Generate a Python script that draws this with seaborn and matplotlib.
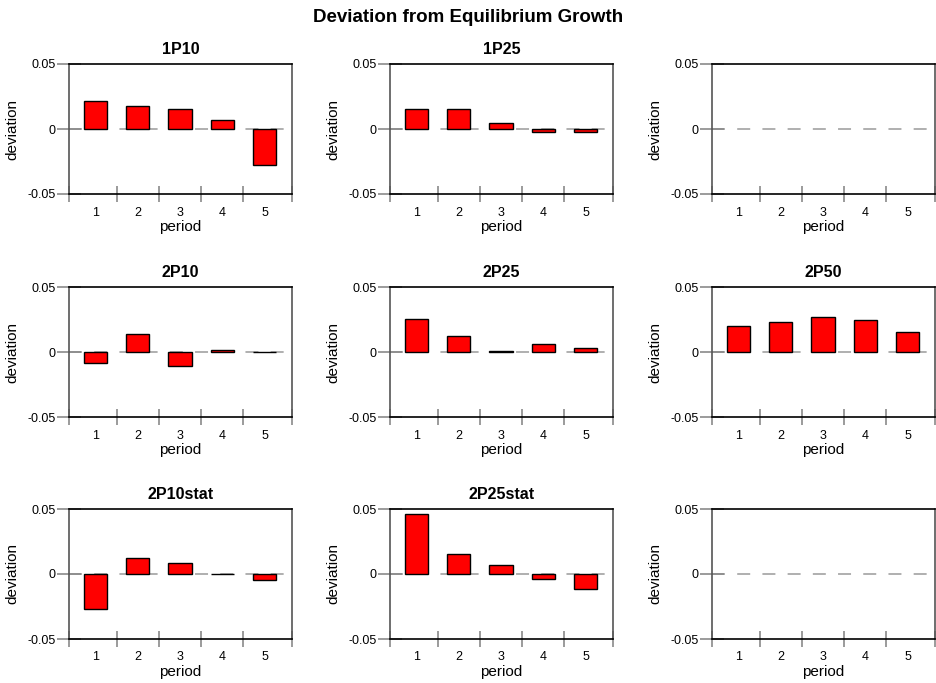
import matplotlib

matplotlib.use("Agg")
import matplotlib.pyplot as plt  # noqa: E402
import pandas as pd
import seaborn as sns

# panel titles (row by row) and the deviation per period; None = empty panel
periods = [1, 2, 3, 4, 5]
titles = ["1P10", "1P25", "", "2P10", "2P25", "2P50", "2P10stat", "2P25stat", ""]
dev_1p10 = [0.0212, 0.0179, 0.0156, 0.0072, -0.0280]
dev_1p25 = [0.0156, 0.0154, 0.0043, -0.0023, -0.0020]
dev_2p10 = [-0.0082, 0.0138, -0.0110, 0.0018, -0.0003]
dev_2p25 = [0.0251, 0.0120, 0.0006, 0.0062, 0.0033]
dev_2p50 = [0.0197, 0.0228, 0.0269, 0.0244, 0.0154]
dev_2p10stat = [-0.0272, 0.0120, 0.0085, 0.0003, -0.0044]
dev_2p25stat = [0.0462, 0.0151, 0.0067, -0.0036, -0.0113]
series = [dev_1p10, dev_1p25, None, dev_2p10, dev_2p25, dev_2p50,
          dev_2p10stat, dev_2p25stat, None]
y_ticks = [-0.05, 0, 0.05]
y_ticklabels = ["-0.05", "0", "0.05"]

sns.set_theme(style="white")
plt.rcParams["font.family"] = ["Liberation Sans", "DejaVu Sans"]
plt.rcParams["text.color"] = "black"
plt.rcParams["axes.labelcolor"] = "black"

W, H = 937, 683
fig = plt.figure(figsize=(W / 100, H / 100), dpi=100)
fig.patch.set_facecolor("white")

lefts = [69, 390, 712]
tops = [64, 287, 509]
aw, ah = 223, 130

for i, (title, vals) in enumerate(zip(titles, series)):
    r, c = divmod(i, 3)
    ax = fig.add_axes([lefts[c] / W, 1 - (tops[r] + ah) / H, aw / W, ah / H])
    ax.axhline(0, color="#9a9a9a", lw=1.1, ls=(0, (8.5, 8)), zorder=0.5)
    if vals is not None:
        df = pd.DataFrame({"period": periods, "deviation": vals})
        sns.barplot(data=df, x="period", y="deviation", order=periods,
                    color="red", saturation=1, edgecolor="black",
                    linewidth=1.0, width=0.55, ax=ax, zorder=2)
    ax.set_xticks(range(len(periods)))
    ax.set_xticklabels([str(p) for p in periods])
    ax.set_xlim(-0.63, 4.65)
    ax.set_xticks([-0.63, 0.5, 1.5, 2.5, 3.5, 4.65], minor=True)
    ax.tick_params(axis="x", which="major", bottom=False, length=0, pad=9,
                   labelsize=9, labelcolor="black")
    ax.tick_params(axis="x", which="minor", bottom=True, direction="inout",
                   length=11, width=1.2, color="#8a8a8a")
    ax.set_ylim(-0.05, 0.05)
    ax.set_yticks(y_ticks)
    ax.set_yticklabels(y_ticklabels)
    ax.tick_params(axis="y", which="major", left=True, direction="inout",
                   length=17, width=1.2, color="#8a8a8a", labelsize=9, pad=1,
                   labelcolor="black")
    ax.set_xlabel("period", fontsize=11, labelpad=1)
    ax.set_ylabel("deviation", fontsize=11, labelpad=6)
    for side in ["top", "bottom"]:
        ax.spines[side].set_color("black")
        ax.spines[side].set_linewidth(1.2)
    for side in ["left", "right"]:
        ax.spines[side].set_color("#555555")
        ax.spines[side].set_linewidth(1.2)
    if title:
        ax.set_title(title, fontsize=11.5, fontweight="bold", pad=7)

fig.suptitle("Deviation from Equilibrium Growth", fontsize=13.5,
             fontweight="bold", y=1 - 18 / H, va="center")

fig.savefig("out.png", dpi=100)
plt.close(fig)
